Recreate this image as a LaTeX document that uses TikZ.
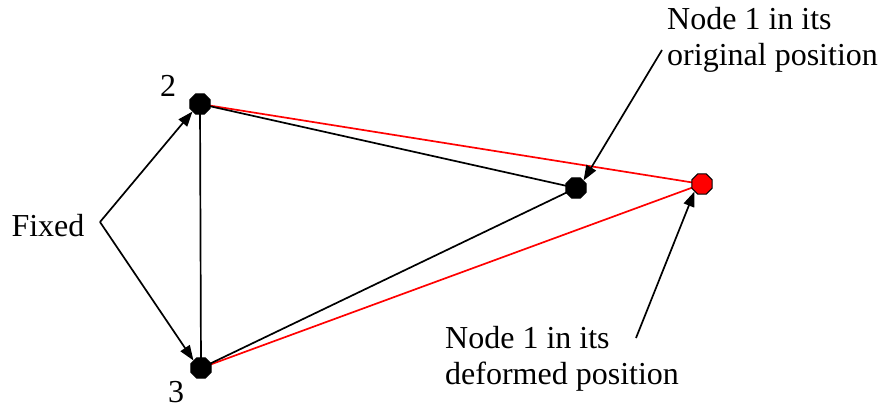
\documentclass[tikz,border=0pt]{standalone}
\usepackage{fontspec}
\setmainfont{Liberation Serif}
\usetikzlibrary{shapes.geometric,arrows.meta}
\begin{document}
\begin{tikzpicture}[x=1pt,y=-1pt,
  joint/.style={regular polygon,regular polygon sides=8,minimum size=22pt,inner sep=0pt,draw=black,line width=1pt,fill=black},
  defjoint/.style={joint,fill=red},
  bar/.style={line width=1.7pt,black},
  redbar/.style={line width=1.7pt,red},
  pointer/.style={line width=1.7pt,black,-{Triangle[length=15pt,width=11pt]}},
  lbl/.style={font=\fontsize{32}{36}\selectfont,inner sep=0pt}]
\useasboundingbox (0,0) rectangle (882,410);
% members
\coordinate (n2) at (200,104);
\coordinate (n3) at (201,368);
\coordinate (n1) at (576,188);
\coordinate (n1d) at (702,184);
\draw[redbar] (n2) -- (n1d);
\draw[redbar] (n3) -- (n1d);
\draw[bar] (n2) -- (n3);
\draw[bar] (n2) -- (n1);
\draw[bar] (n3) -- (n1);
\node[joint] (j2) at (n2) {};
\node[joint] (j3) at (n3) {};
\node[joint] (j1) at (n1) {};
\node[defjoint] (j1d) at (n1d) {};
% labels
\node[lbl] (l2) at (168,86) {2};
\node[lbl] (l3) at (176,392) {3};
\node[lbl] (fixed) at (48,226) {Fixed};
\coordinate (apex) at (100,222);
\draw[pointer] (apex) -- (j2.south west);
\draw[pointer] (apex) -- (j3.north west);
\node[lbl,align=left,anchor=north west] (orig) at (667,7) {Node 1 in its\\original position};
\node[lbl,align=left,anchor=north west] (def) at (445,326) {Node 1 in its\\deformed position};
\coordinate (ostart) at (662,50);
\coordinate (dstart) at (636,338);
\draw[pointer] (ostart) -- (j1.north east);
\draw[pointer] (dstart) -- (j1d.south west);
\end{tikzpicture}
\end{document}
